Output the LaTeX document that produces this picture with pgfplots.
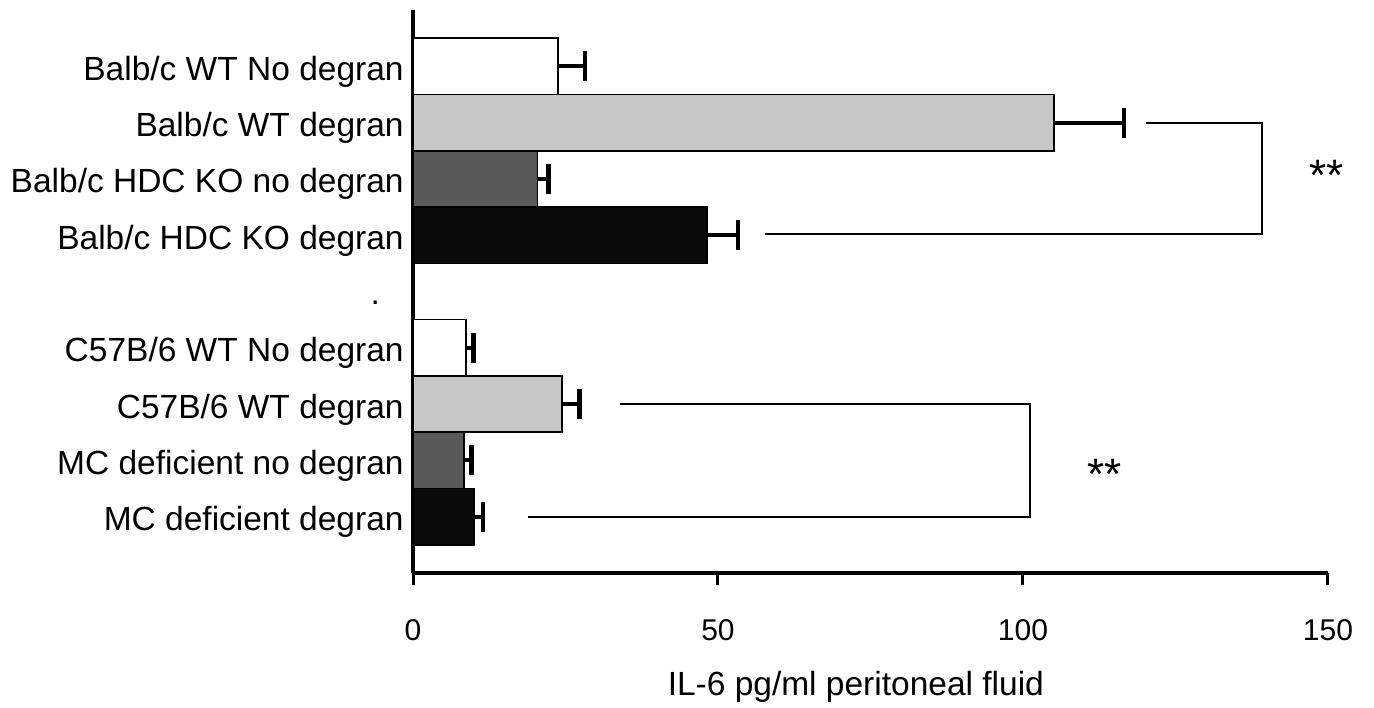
\documentclass[border=0pt]{standalone}
\usepackage{fontspec}
\setmainfont{Liberation Sans}
\usepackage{pgfplots}
\pgfplotsset{compat=1.18}
\definecolor{lgray}{gray}{0.78}
\definecolor{dgray}{gray}{0.35}
\definecolor{bblack}{gray}{0.04}
\pgfplotsset{mybar/.style={xbar, bar width=1, bar shift=0pt, draw=black, line width=0.8pt,
    error bars/x dir=plus, error bars/x explicit,
    error bars/error bar style={line width=2pt, black},
    error bars/error mark options={rotate=90, mark size=7.5pt, line width=2.2pt, black}}}
\begin{document}
\fontsize{16.75}{20}\selectfont
\begin{tikzpicture}
\begin{axis}[
  scale only axis,
  width=457.5pt, height=281.5pt,
  xmin=0, xmax=150, ymin=0, ymax=10,
  clip=false,
  axis x line*=bottom, axis y line*=left,
  axis line style={line width=1.8pt},
  xtick={0,50,100,150},
  tick align=outside,
  x tick style={line width=1.5pt, black},
  major tick length=6pt,
  y tick style={draw=none},
  ytick={1,2,3,4,6,7,8,9},
  yticklabels={MC deficient degran, MC deficient no degran, C57B/6 WT degran, C57B/6 WT No degran, Balb/c HDC KO degran, Balb/c HDC KO no degran, Balb/c WT degran, Balb/c WT No degran},
  yticklabel style={anchor=base east, inner sep=0pt, xshift=1.5pt, yshift=-7pt, font=\fontsize{16.75}{20}\selectfont},
  xticklabel style={anchor=base, inner sep=0pt, yshift=-28pt, font=\fontsize{15}{18}\selectfont},
  /pgf/number format/assume math mode=true,
]
% white: no degran WT
\addplot[mybar, fill=white] coordinates {(23.8,9) +- (4.4,0) (8.7,4) +- (1.2,0)};
% light gray: WT degran
\addplot[mybar, fill=lgray] coordinates {(105.1,8) +- (11.5,0) (24.4,3) +- (2.9,0)};
% dark gray: KO / deficient no degran
\addplot[mybar, fill=dgray] coordinates {(20.4,7) +- (1.8,0) (8.4,2) +- (1.2,0)};
% black: KO / deficient degran
\addplot[mybar, fill=bblack] coordinates {(48.2,6) +- (5.1,0) (10.0,1) +- (1.5,0)};
% significance brackets
\draw[line width=1pt] (axis cs:120.1,8) -| (axis cs:139.2,6.03) -- (axis cs:57.7,6.03);
\draw[line width=1pt] (axis cs:33.9,3) -| (axis cs:101.1,1) -- (axis cs:18.9,1);
\node[anchor=base, inner sep=0pt, font=\fontsize{22}{24}\selectfont] at (axis cs:149.7,6.79) {**};
\node[anchor=base, inner sep=0pt, font=\fontsize{22}{24}\selectfont] at (axis cs:113.4,1.49) {**};
\node[anchor=base, inner sep=0pt] at (axis cs:-6.2,4.77) {.};
\node[anchor=base, inner sep=0pt] at (rel axis cs:0.484,0) [yshift=-61.5pt] {IL-6 pg/ml peritoneal fluid};
\coordinate (bbll) at (rel axis cs:-0.4514,-0.2398);
\coordinate (bbur) at (rel axis cs:1.0503,1.0178);
\end{axis}
\pgfresetboundingbox
\path[use as bounding box] (bbll) rectangle (bbur);
\end{tikzpicture}
\end{document}
